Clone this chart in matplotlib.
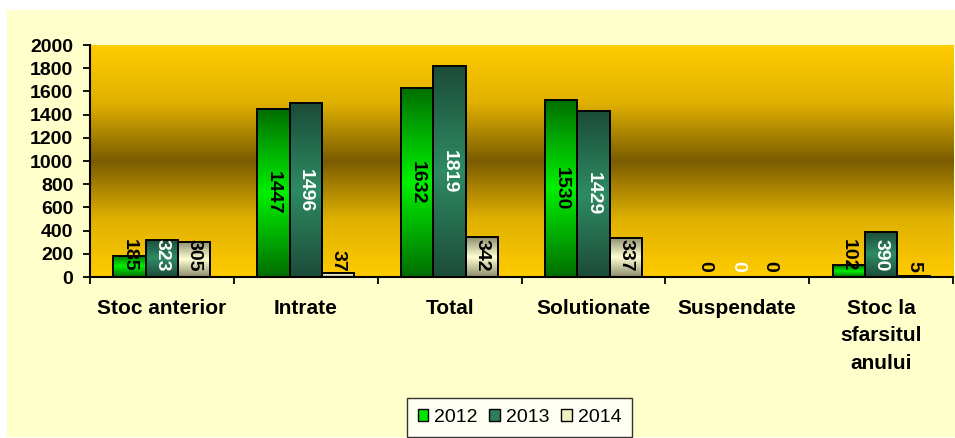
import numpy as np
import matplotlib
matplotlib.use("Agg")
import matplotlib.pyplot as plt
from matplotlib.patches import Rectangle, Patch
from matplotlib.colors import LinearSegmentedColormap

plt.rcParams['font.family'] = ['Liberation Sans', 'DejaVu Sans']

categories = ["Stoc anterior", "Intrate", "Total", "Solutionate", "Suspendate",
              "Stoc la\nsfarsitul\nanului"]
years = ["2012", "2013", "2014"]
v2012 = [185, 1447, 1632, 1530, 0, 102]
v2013 = [323, 1496, 1819, 1429, 0, 390]
v2014 = [305, 37, 342, 337, 0, 5]
series = [v2012, v2013, v2014]
yticks = [0, 200, 400, 600, 800, 1000, 1200, 1400, 1600, 1800, 2000]

# (edge colour, middle colour, legend colour, label colour)
styles = [
    ("#006e00", "#00f000", "#00e600", "black"),
    ("#1c4c39", "#2e8b63", "#2e7d5a", "white"),
    ("#8c8c6e", "#ffffd2", "#f2f2c0", "black"),
]

W, H = 955, 438
fig = plt.figure(figsize=(W / 100, H / 100), dpi=100)
fig.patch.set_facecolor("white")
fig.patches.append(Rectangle((7 / W, 1 / H), 948 / W, 427 / H, transform=fig.transFigure,
                             facecolor="#ffffcc", edgecolor="none", zorder=-10))

ax = fig.add_axes([90 / W, 1 - 277 / H, 863 / W, 232 / H])
ax.set_zorder(1)
ax.patch.set_alpha(0)

# plot-area gradient: gold - brown - gold
bg = LinearSegmentedColormap.from_list("bg", ["#ffcc00", "#e0b000", "#7a5c00", "#e0b000", "#ffcc00"])
grad = np.linspace(0, 1, 256).reshape(-1, 1)
ax.imshow(grad, cmap=bg, aspect="auto", extent=[0, 1, 0, 1], transform=ax.transAxes,
          zorder=0, interpolation="bicubic")

x = np.arange(len(categories))
width = 0.225
offsets = [-width, 0, width]

for vals, off, (edge_c, mid_c, leg_c, lab_c) in zip(series, offsets, styles):
    cmap = LinearSegmentedColormap.from_list("b", [edge_c, mid_c, edge_c])
    bars = ax.bar(x + off, vals, width, facecolor="none", edgecolor="black",
                  linewidth=1.4, zorder=3)
    for b, v in zip(bars, vals):
        if v > 0:
            im = ax.imshow(grad, cmap=cmap, aspect="auto",
                           extent=[b.get_x(), b.get_x() + b.get_width(), 0, v],
                           zorder=2, interpolation="bicubic")
            im.set_clip_path(b)
        if v >= 600:
            ax.text(b.get_x() + b.get_width() / 2, v / 2, str(v), rotation=-90,
                    ha="center", va="center", fontsize=14, fontweight="bold",
                    color=lab_c, zorder=5)
        else:
            ax.annotate(str(v), (b.get_x() + b.get_width() / 2, 0), xytext=(0, 4),
                        textcoords="offset points", rotation=-90, ha="center",
                        va="bottom", fontsize=14, fontweight="bold", color=lab_c,
                        zorder=5)

ax.set_xlim(-0.5, 5.5)
ax.set_ylim(0, 2000)

for s in ["top", "right"]:
    ax.spines[s].set_visible(False)
for s in ["left", "bottom"]:
    ax.spines[s].set_color("black")
    ax.spines[s].set_linewidth(1.5)
    ax.spines[s].set_zorder(6)

ax.set_yticks(yticks)
ax.set_yticklabels([str(t) for t in yticks], fontsize=14, fontweight="bold")
ax.tick_params(axis="y", direction="out", length=5, width=1.3, pad=7)

ax.set_xticks(np.arange(-0.5, 6, 1.0))
ax.set_xticklabels([])
ax.tick_params(axis="x", which="major", direction="out", length=5, width=1.3)
ax.set_xticks(x, minor=True)
ax.set_xticklabels(categories, minor=True, fontsize=15, fontweight="bold",
                   linespacing=1.55, va="top")
ax.tick_params(axis="x", which="minor", length=0, pad=16)

handles = [Patch(facecolor=s[2], edgecolor="black", linewidth=1.0) for s in styles]
leg = fig.legend(handles, years, loc="center", bbox_to_anchor=(519.5 / W, 1 - 417.5 / H),
                 ncol=3, fontsize=14, frameon=True, fancybox=False, handlelength=0.55,
                 handleheight=0.55, handletextpad=0.3, columnspacing=0.6,
                 borderpad=0.55, borderaxespad=0)
leg.get_frame().set_edgecolor("black")
leg.get_frame().set_linewidth(1.0)
leg.get_frame().set_facecolor("white")

fig.savefig("out.png", dpi=100, facecolor=fig.get_facecolor())
